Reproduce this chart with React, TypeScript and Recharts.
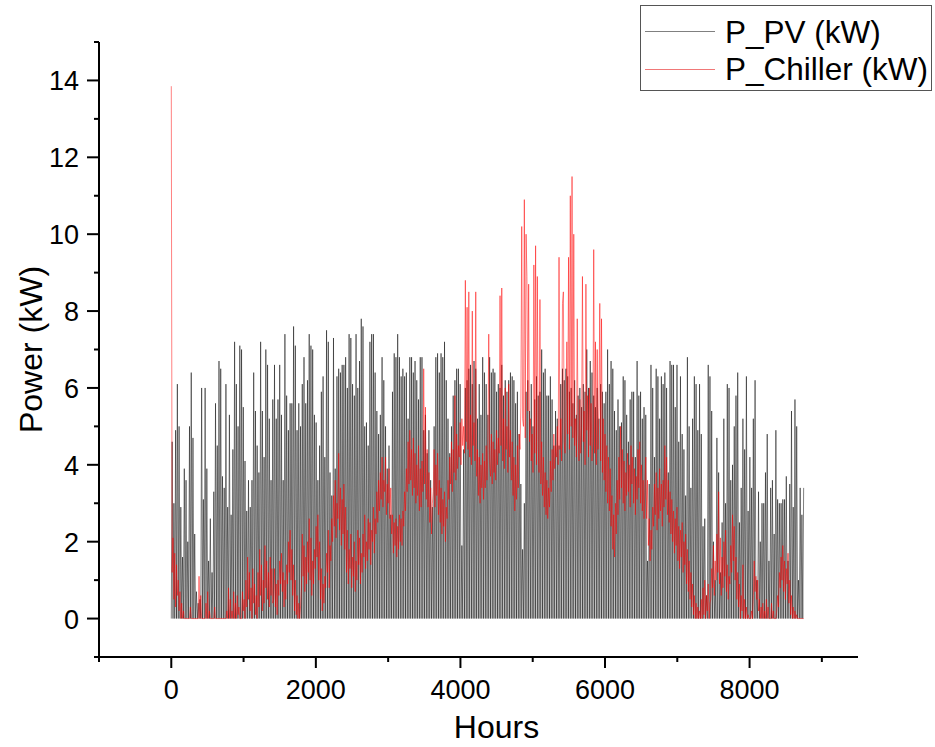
import { LineChart, Line, XAxis, YAxis, Legend } from "recharts";

// daily PV peak (kW), one value per day
const pvJan = [4.6, 3.0, 4.9, 6.1, 5.0, 2.9, 1.6, 3.9, 3.6, 2.0, 5.0, 6.4, 4.7, 2.2, 0.7, 0.4, 0.5, 6.0, 3.1, 6.0, 3.9, 1.5, 2.6, 1.2, 3.3, 5.6, 4.5, 6.7, 6.5, 3.7, 3.4];
const pvFeb = [6.1, 2.9, 5.3, 2.7, 4.4, 7.2, 6.1, 5.0, 7.1, 7.0, 5.5, 4.1, 2.8, 3.6, 2.9, 3.6, 6.4, 5.4, 4.5, 3.8, 7.2, 5.4, 4.2, 7.0, 6.6, 5.2, 3.6, 5.7];
const pvMar = [6.6, 5.2, 5.7, 6.6, 5.3, 3.6, 7.4, 5.8, 4.9, 5.6, 5.6, 7.6, 7.1, 4.9, 5.6, 5.0, 6.1, 6.8, 5.6, 6.2, 7.4, 7.1, 7.0, 5.3, 5.1, 3.6, 4.5, 5.9, 6.3, 4.2, 7.5];
const pvApr = [7.2, 3.8, 3.2, 7.3, 3.9, 6.3, 6.5, 6.4, 6.6, 6.6, 6.8, 6.0, 7.4, 7.3, 6.1, 5.8, 7.4, 6.0, 6.7, 7.8, 7.6, 5.0, 5.1, 4.5, 7.2, 7.4, 7.4, 6.4, 5.4, 4.8];
const pvMay = [5.3, 6.8, 6.2, 5.0, 3.9, 4.5, 2.7, 5.9, 6.9, 6.8, 7.4, 6.8, 6.3, 6.5, 6.3, 6.4, 5.2, 6.8, 6.8, 6.4, 6.7, 6.2, 5.7, 6.8, 6.8, 4.9, 5.3, 4.3, 4.9, 3.6, 2.9];
const pvJun = [5.0, 6.8, 6.9, 6.4, 6.9, 6.8, 7.2, 6.2, 5.2, 4.3, 5.0, 5.8, 6.2, 6.5, 6.5, 6.1, 1.9, 4.4, 6.0, 6.2, 6.5, 6.6, 6.1, 6.7, 6.5, 5.2, 6.1, 5.3, 6.8, 6.4];
const pvJul = [6.1, 5.3, 6.8, 6.4, 6.5, 6.4, 5.9, 6.1, 6.0, 6.6, 5.8, 6.2, 5.9, 6.2, 6.4, 6.3, 6.2, 5.6, 5.9, 4.8, 3.5, 1.8, 3.0, 5.9, 6.2, 5.4, 6.1, 5.0, 5.7, 6.3, 5.8];
const pvAug = [5.9, 7.0, 6.4, 6.5, 5.8, 5.8, 6.3, 5.7, 4.5, 5.4, 5.2, 4.5, 6.1, 6.5, 6.2, 6.5, 6.3, 5.9, 6.0, 5.6, 6.2, 5.3, 5.8, 6.0, 5.5, 6.1, 5.9, 7.0, 6.0, 6.7, 6.4];
const pvSep = [5.8, 5.5, 6.0, 5.2, 6.1, 5.9, 5.6, 5.9, 7.0, 6.1, 6.7, 6.5, 5.4, 4.9, 5.7, 5.0, 5.1, 6.3, 6.2, 5.3, 4.6, 5.7, 5.9, 5.9, 4.2, 6.7, 5.8, 5.9, 5.2, 5.5];
const pvOct = [5.3, 1.5, 3.5, 6.6, 6.0, 4.2, 6.5, 6.3, 5.2, 6.3, 6.1, 6.4, 6.0, 3.8, 6.7, 6.6, 6.6, 5.5, 6.6, 4.6, 6.3, 4.8, 4.4, 3.2, 6.8, 5.0, 3.4, 5.2, 6.3, 6.1, 4.9];
const pvNov = [6.1, 4.8, 2.4, 2.6, 0.6, 6.6, 6.3, 5.4, 2.0, 1.0, 4.7, 3.8, 1.2, 2.5, 5.2, 3.0, 6.1, 6.0, 3.6, 4.0, 5.0, 5.8, 6.4, 2.5, 3.4, 5.2, 4.4, 6.3, 2.8, 4.2];
const pvDec = [3.4, 5.2, 6.2, 1.0, 3.3, 2.0, 3.0, 3.0, 3.8, 4.8, 1.5, 3.4, 3.6, 2.2, 4.9, 3.1, 3.0, 3.0, 3.1, 3.1, 3.7, 1.5, 3.5, 5.4, 2.9, 5.7, 5.0, 1.0, 3.4, 2.7, 3.4];

// chiller power (kW), one value every 12 hours
const chillerJan = [13.85, 1.2, 2.1, 0.5, 1.7, 0.3, 1.4, 0.6, 1.0, 0.2, 0.7, 0, 0.4, 0, 0.2, 0, 0, 0, 0, 0, 0, 0, 0.3, 0, 0, 0, 0, 0, 0, 0, 0, 0, 1.1, 0, 0.6, 0, 0, 0, 0, 0, 0.4, 0, 0.7, 0, 0.2, 0, 0, 0, 0, 0, 0.3, 0, 0, 0, 0, 0, 0, 0, 0, 0, 0, 0];
const chillerFeb = [0, 0, 0.2, 0, 0.8, 0, 0.5, 0, 0.2, 0, 0.7, 0, 0.4, 0, 0.6, 0.1, 0.3, 0, 0, 0, 0.7, 0.2, 0.5, 0, 1.0, 0.3, 1.6, 0.5, 1.2, 0.2, 0.8, 0, 1.3, 0.4, 0.9, 0.1, 0.6, 0, 1.2, 0.3, 1.8, 0.6, 1.4, 0.2, 1.0, 0.4, 1.9, 0.8, 1.5, 0.5, 1.2, 0.3, 1.6, 0.6, 1.3, 0.4];
const chillerMar = [0.5, 1.3, 0.3, 0.9, 0.1, 1.0, 0.6, 1.5, 0.9, 1.7, 0.7, 1.2, 0.3, 1.0, 0.5, 1.4, 0.9, 2.0, 1.2, 2.3, 1.0, 1.8, 0.6, 1.4, 0.2, 1.0, 0.1, 0.6, 0, 0.4, 0, 0.3, 0.8, 2.2, 1.1, 1.9, 0.7, 1.6, 0.9, 2.0, 1.2, 2.6, 1.0, 2.1, 0.6, 1.5, 0.9, 1.8, 1.3, 2.4, 1.6, 2.7, 1.0, 2.0, 0.5, 1.3, 0.2, 0.9, 0.4, 1.1, 0.8, 1.7];
const chillerApr = [1.2, 2.3, 0.8, 1.9, 1.5, 2.6, 2.0, 3.2, 2.4, 3.6, 2.1, 3.0, 2.6, 4.3, 2.3, 3.4, 1.9, 3.1, 2.2, 3.5, 1.8, 2.9, 1.2, 2.3, 0.9, 1.8, 1.3, 2.2, 0.8, 1.6, 1.1, 2.0, 0.7, 1.5, 1.0, 2.3, 1.4, 2.1, 0.9, 1.7, 1.2, 2.2, 1.6, 2.7, 1.3, 2.0, 1.5, 2.6, 1.8, 2.5, 1.4, 2.3, 2.0, 2.9, 1.7, 2.6, 2.2, 3.3, 2.5, 3.6];
const chillerMay = [2.8, 3.8, 3.1, 4.2, 2.9, 3.6, 3.3, 4.2, 2.7, 3.5, 3.0, 3.9, 2.6, 3.4, 2.2, 2.7, 1.7, 2.5, 1.9, 2.6, 1.6, 2.4, 1.8, 2.7, 2.0, 2.6, 1.9, 2.8, 2.4, 3.3, 2.8, 3.9, 3.3, 4.6, 3.5, 4.9, 3.6, 4.4, 3.2, 4.7, 3.4, 4.3, 3.0, 4.0, 3.2, 4.5, 2.8, 3.9, 2.9, 4.1, 3.3, 6.5, 3.5, 5.5, 3.1, 4.4, 2.9, 3.8, 2.5, 3.4, 2.2, 3.0];
const chillerJun = [3.3, 4.4, 2.9, 4.0, 3.2, 4.3, 2.7, 3.6, 2.5, 3.4, 2.2, 3.1, 2.4, 3.3, 2.0, 2.9, 2.6, 3.6, 3.1, 4.2, 3.5, 4.6, 3.3, 4.4, 3.8, 5.8, 3.6, 4.8, 3.9, 4.5, 4.2, 5.1, 4.0, 5.2, 4.5, 5.0, 4.3, 8.8, 4.6, 8.1, 4.4, 8.5, 4.2, 5.3, 4.0, 8.0, 4.5, 5.1, 4.1, 8.5, 3.7, 4.4, 3.2, 4.2, 3.0, 4.0, 3.4, 4.3, 3.1, 4.1];
const chillerJul = [3.4, 4.5, 3.6, 4.4, 7.4, 4.1, 3.7, 4.8, 3.5, 4.6, 3.8, 4.4, 3.6, 4.9, 4.0, 4.7, 4.3, 8.4, 4.5, 8.6, 4.1, 5.2, 3.9, 6.0, 4.4, 5.0, 3.8, 6.1, 4.2, 4.9, 3.6, 4.6, 3.2, 4.2, 2.8, 4.0, 3.1, 4.5, 3.4, 4.8, 4.4, 5.5, 10.2, 5.2, 5.0, 10.9, 4.7, 10.0, 8.9, 5.4, 8.7, 4.6, 5.2, 4.1, 4.8, 3.8, 9.2, 4.3, 9.7, 4.0, 8.9, 4.5];
const chillerAug = [3.8, 8.3, 3.5, 4.6, 3.2, 4.2, 2.9, 3.8, 2.7, 3.6, 2.6, 3.4, 2.9, 4.1, 3.3, 4.4, 3.6, 4.8, 3.9, 4.5, 4.2, 5.0, 4.0, 9.4, 4.4, 5.2, 4.1, 8.2, 8.5, 4.6, 4.3, 5.1, 7.2, 4.8, 9.4, 4.4, 11.0, 5.0, 11.5, 4.7, 10.0, 4.5, 5.2, 4.2, 7.8, 4.8, 4.1, 5.7, 4.3, 5.0, 8.9, 4.6, 5.4, 4.0, 8.7, 4.9, 5.8, 4.2, 6.0, 4.5, 5.6, 4.1];
const chillerSep = [4.6, 9.6, 4.3, 7.2, 4.0, 7.0, 4.4, 5.5, 8.2, 4.1, 7.8, 3.8, 5.2, 3.6, 4.8, 3.3, 4.5, 3.0, 4.2, 2.8, 3.9, 2.4, 3.2, 1.8, 2.7, 1.6, 3.0, 2.2, 3.6, 2.7, 4.2, 3.1, 5.0, 3.4, 4.4, 3.0, 4.1, 2.8, 3.8, 3.2, 4.3, 3.3, 4.0, 2.9, 4.5, 3.5, 4.2, 3.0, 3.9, 2.7, 3.7, 3.1, 4.4, 3.4, 4.6, 3.0, 4.0, 2.8, 3.6, 2.6];
const chillerOct = [3.4, 4.2, 2.6, 3.6, 1.9, 2.6, 1.5, 2.3, 1.8, 2.9, 2.4, 3.5, 2.7, 3.8, 2.3, 3.4, 2.6, 3.9, 2.8, 3.5, 2.4, 3.6, 2.9, 4.5, 3.1, 4.2, 2.7, 3.6, 2.5, 3.3, 2.2, 3.1, 2.0, 2.8, 1.7, 2.6, 1.9, 2.9, 1.5, 2.4, 1.3, 2.3, 1.6, 2.5, 1.2, 2.0, 1.4, 2.2, 0.9, 1.8, 0.7, 1.5, 0.5, 1.2, 0.3, 0.9, 0.1, 0.6, 0, 0.4, 0, 0.3];
const chillerNov = [0, 0.2, 0, 0.5, 0, 0.8, 0.1, 1.0, 0, 0.6, 0.2, 0.9, 0, 0.4, 0.5, 1.3, 0.8, 1.9, 0.6, 1.5, 1.0, 2.2, 1.2, 3.3, 0.9, 2.1, 0.6, 1.6, 0.8, 2.0, 1.1, 2.3, 0.7, 1.4, 0.5, 1.1, 0.9, 1.9, 1.2, 2.7, 1.5, 2.4, 1.0, 1.6, 0.5, 1.2, 0.3, 0.9, 0, 0.6, 0.2, 1.4, 0, 0.5, 0, 0.3, 0, 0.1, 0, 0];
const chillerDec = [0, 0.2, 0, 0.6, 1.5, 0.7, 1.1, 0.5, 1.0, 0.2, 0.5, 0, 0.3, 0, 0.4, 0, 0.2, 0, 0.5, 0, 0.3, 0, 0, 0, 0.4, 0, 0.2, 0, 0, 0, 0.2, 0.6, 0.3, 1.2, 0.8, 1.6, 1.0, 1.9, 0.7, 1.5, 0.5, 1.3, 0.9, 1.7, 0.4, 1.0, 0.1, 0.6, 0, 0.3, 0, 0.2, 0, 0.1, 0, 0, 0, 0, 0, 0, 0, 0];

const xTicks = [-1000, 0, 1000, 2000, 3000, 4000, 5000, 6000, 7000, 8000, 9000];
const yTicks = [-1, 0, 1, 2, 3, 4, 5, 6, 7, 8, 9, 10, 11, 12, 13, 14, 15];

const FONT = '"Liberation Sans", Arial, sans-serif';

const pvDaily = [pvJan, pvFeb, pvMar, pvApr, pvMay, pvJun, pvJul, pvAug, pvSep, pvOct, pvNov, pvDec].flat();
const chillerHalfDay = [chillerJan, chillerFeb, chillerMar, chillerApr, chillerMay, chillerJun, chillerJul, chillerAug, chillerSep, chillerOct, chillerNov, chillerDec].flat();

// PV is zero at midnight, peak at noon
const pvData = pvDaily.flatMap((peak, day) => [
  { h: day * 24, v: 0 },
  { h: day * 24 + 12, v: peak },
]);
const chillerData = chillerHalfDay.map((v, i) => ({ h: i * 12, v }));

function XTick({ x, y, payload }: any) {
  const value = payload.value;
  const major = value % 2000 === 0;
  return (
    <g>
      <line x1={x} x2={x} y1={y} y2={y + (major ? 11 : 5)} stroke="#000" strokeWidth={2} />
      {major && (
        <text x={x} y={y + 42} textAnchor="middle" fontSize={27} fontFamily={FONT} fill="#000">
          {value}
        </text>
      )}
    </g>
  );
}

function YTick({ x, y, payload }: any) {
  const value = payload.value;
  const major = value % 2 === 0 && value >= 0 && value <= 14;
  return (
    <g>
      <line x1={x} x2={x - (major ? 12 : 5)} y1={y} y2={y} stroke="#000" strokeWidth={2} />
      {major && (
        <text x={x - 20} y={y + 10} textAnchor="end" fontSize={27} fontFamily={FONT} fill="#000">
          {value}
        </text>
      )}
    </g>
  );
}

function LegendBox() {
  return (
    <svg width={293} height={87}>
      <rect x={0.5} y={0.5} width={291} height={85} fill="#fff" stroke="#555" strokeWidth={1} />
      <line x1={5} x2={75} y1={26.5} y2={26.5} stroke="#808080" strokeWidth={1} />
      <text x={85} y={38} fontSize={31.5} fontFamily={FONT} fill="#000">P_PV (kW)</text>
      <line x1={5} x2={75} y1={64.5} y2={64.5} stroke="#f07878" strokeWidth={1} />
      <text x={85} y={75} fontSize={31.5} fontFamily={FONT} fill="#000">P_Chiller (kW)</text>
    </svg>
  );
}

export default function App() {
  return (
    <div style={{ position: "absolute", left: 0, top: 0, width: 935, height: 747, background: "#fff" }}>
      <LineChart width={935} height={747} margin={{ top: 42, right: 77, bottom: 30, left: 39 }}>
        <XAxis
          type="number"
          dataKey="h"
          domain={[-1000, 9500]}
          ticks={xTicks}
          allowDataOverflow
          height={60}
          tickSize={0}
          tickMargin={0}
          tickLine={false}
          tick={<XTick />}
          interval={0}
          axisLine={{ stroke: "#000", strokeWidth: 2 }}
          label={{
            content: ({ viewBox }: any) => (
              <text
                x={viewBox.x + viewBox.width / 2 + 18}
                y={viewBox.y + 81}
                textAnchor="middle"
                fontSize={32}
                fontFamily={FONT}
                fill="#000"
              >
                Hours
              </text>
            ),
          }}
        />
        <YAxis
          type="number"
          domain={[-1, 15]}
          ticks={yTicks}
          allowDataOverflow
          width={60}
          tickSize={0}
          tickMargin={0}
          tickLine={false}
          tick={<YTick />}
          interval={0}
          axisLine={{ stroke: "#000", strokeWidth: 2 }}
          label={{
            content: ({ viewBox }: any) => {
              const cx = viewBox.x - 8;
              const cy = viewBox.y + viewBox.height / 2;
              return (
                <text
                  x={cx}
                  y={cy}
                  transform={`rotate(-90 ${cx} ${cy})`}
                  textAnchor="middle"
                  dominantBaseline="central"
                  fontSize={32}
                  fontFamily={FONT}
                  fill="#000"
                >
                  Power (kW)
                </text>
              );
            },
          }}
        />
        <Legend
          layout="horizontal"
          verticalAlign="middle"
          align="center"
          wrapperStyle={{ position: "absolute", top: 5, left: 640, width: 293, height: 87 }}
          content={() => <LegendBox />}
        />
        <Line
          data={pvData}
          dataKey="v"
          name="P_PV (kW)"
          type="linear"
          stroke="#000"
          strokeWidth={0.5}
          dot={false}
          activeDot={false}
          isAnimationActive={false}
        />
        <Line
          data={chillerData}
          dataKey="v"
          name="P_Chiller (kW)"
          type="linear"
          stroke="#ff0000"
          strokeWidth={0.5}
          dot={false}
          activeDot={false}
          isAnimationActive={false}
        />
      </LineChart>
    </div>
  );
}
